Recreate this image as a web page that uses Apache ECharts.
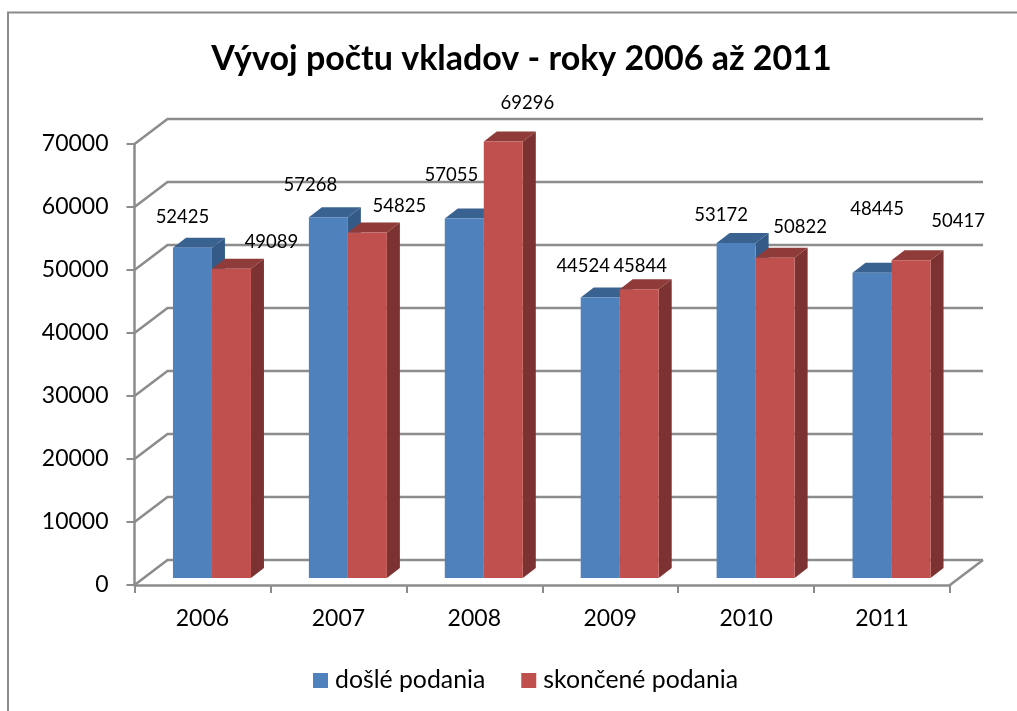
<!DOCTYPE html>
<html>
<head>
<meta charset="utf-8">
<title>Vývoj počtu vkladov</title>
<script src="https://cdn.jsdelivr.net/npm/echarts@6/dist/echarts.min.js"></script>
<style>
  html, body { margin: 0; padding: 0; background: #fff; }
  #chart { width: 1017px; height: 711px; }
</style>
</head>
<body>
<div id="chart"></div>
<script>
const years = ['2006', '2007', '2008', '2009', '2010', '2011'];
const dosle = [52425, 57268, 57055, 44524, 53172, 48445];
const skoncene = [49089, 54825, 69296, 45844, 50822, 50417];
const yTicks = [0, 10000, 20000, 30000, 40000, 50000, 60000, 70000];

// labels are hand placed in the original, offsets from the top middle of each bar
const dosleLabelShift = [[-10, -31], [-18, -32], [-13, -44], [-17, -31], [-15, -28], [5, -64]];
const skonceneLabelShift = [[40, -27], [32, -27], [24, -38], [1, -23], [25, -31], [47, -39]];

const font = 'Lato, sans-serif';
const gray = '#8c8c8c';
const wall = { dx: 33, dy: -25 };   // back wall shift
const floor = { dx: 9.5, dy: -7 };  // where the bars stand on the floor
const depth = { dx: 13, dy: -10 };  // bar depth
const barW = 39;

const myChart = echarts.init(document.getElementById('chart'));

function wallLines(params, api) {
  const r = params.coordSys;
  const p = api.coord([0, api.value(0)]);
  const y = p[1];
  const x0 = r.x, x1 = r.x + r.width;
  const children = [{
    type: 'polyline',
    shape: { points: [[x0, y], [x0 + wall.dx, y + wall.dy], [x1 + wall.dx, y + wall.dy]] },
    style: { fill: 'none', stroke: gray, lineWidth: 2.5 }
  }];
  if (api.value(0) === 0) {
    children.push({
      type: 'polyline',
      shape: { points: [[x1, y], [x1 + wall.dx, y + wall.dy]] },
      style: { fill: 'none', stroke: gray, lineWidth: 2.5 }
    });
  }
  return { type: 'group', children: children };
}

function bar3d(side, colors, shifts) {
  return function (params, api) {
    const cat = api.value(0);
    const v = api.value(1);
    const top = api.coord([cat, v]);
    const base = api.coord([cat, 0]);
    const left = top[0] + floor.dx + (side < 0 ? -barW : 0);
    const right = left + barW;
    const yTop = top[1] + floor.dy;
    const yBase = base[1] + floor.dy;
    const s = shifts[params.dataIndex];
    return {
      type: 'group',
      children: [
        {
          type: 'polygon',
          shape: { points: [[right, yTop], [right + depth.dx, yTop + depth.dy], [right + depth.dx, yBase + depth.dy], [right, yBase]] },
          style: { fill: colors[2] }
        },
        {
          type: 'polygon',
          shape: { points: [[left, yTop], [left + depth.dx, yTop + depth.dy], [right + depth.dx, yTop + depth.dy], [right, yTop]] },
          style: { fill: colors[1] }
        },
        {
          type: 'rect',
          shape: { x: left, y: yTop, width: barW, height: yBase - yTop },
          style: { fill: colors[0] }
        },
        {
          type: 'text',
          z2: 20,
          style: {
            x: (left + right) / 2 + s[0],
            y: yTop + s[1],
            text: String(v),
            fill: '#000',
            font: '18.5px ' + font,
            align: 'center',
            verticalAlign: 'middle'
          }
        }
      ]
    };
  };
}

const option = {
  animation: false,
  backgroundColor: '#fff',
  textStyle: { fontFamily: font },
  title: {
    text: 'Vývoj počtu vkladov - roky 2006 až 2011',
    left: 516.5,
    top: 37,
    textAlign: 'center',
    textStyle: { fontFamily: font, fontSize: 34, fontWeight: 'bold', color: '#000' }
  },
  legend: {
    left: 308,
    top: 663,
    itemWidth: 15,
    itemHeight: 15,
    itemGap: 36,
    icon: 'rect',
    data: ['došlé podania', 'skončené podania'],
    textStyle: { fontFamily: font, fontSize: 24.8, color: '#000', padding: [0, 0, 0, 2] }
  },
  graphic: [{
    type: 'polyline',
    silent: true,
    shape: { points: [[8, 711], [8, 12.5], [1017, 12.5]] },
    style: { fill: 'none', stroke: '#8a8a8a', lineWidth: 2 }
  }],
  grid: { left: 134.5, right: 67, top: 144, height: 441 },
  xAxis: {
    type: 'category',
    data: years,
    axisLine: { lineStyle: { color: gray, width: 2.5 } },
    axisTick: { show: true, length: 8, lineStyle: { color: gray, width: 2 } },
    axisLabel: { color: '#000', fontSize: 23, fontFamily: font, margin: 22 }
  },
  yAxis: {
    type: 'value',
    min: 0,
    max: 70000,
    interval: 10000,
    axisLine: { show: true, lineStyle: { color: gray, width: 2.5 } },
    axisTick: { show: true, length: 8, lineStyle: { color: gray, width: 2 } },
    splitLine: { show: false },
    axisLabel: {
      color: '#000',
      fontSize: 23,
      fontFamily: font,
      margin: 26,
      formatter: function (v) { return String(v); }
    }
  },
  series: [
    {
      type: 'custom',
      silent: true,
      z: 1,
      renderItem: wallLines,
      encode: { y: 0 },
      data: yTicks.map(function (t) { return [t]; })
    },
    {
      name: 'došlé podania',
      type: 'custom',
      z: 3,
      itemStyle: { color: '#4f81bd' },
      renderItem: bar3d(-1, ['#4f81bd', '#3a6291', '#345a87'], dosleLabelShift),
      encode: { x: 0, y: 1 },
      data: dosle.map(function (v, i) { return [i, v]; })
    },
    {
      name: 'skončené podania',
      type: 'custom',
      z: 4,
      itemStyle: { color: '#c0504d' },
      renderItem: bar3d(1, ['#c0504d', '#8e3b39', '#7b3230'], skonceneLabelShift),
      encode: { x: 0, y: 1 },
      data: skoncene.map(function (v, i) { return [i, v]; })
    }
  ]
};

myChart.setOption(option);
</script>
</body>
</html>
